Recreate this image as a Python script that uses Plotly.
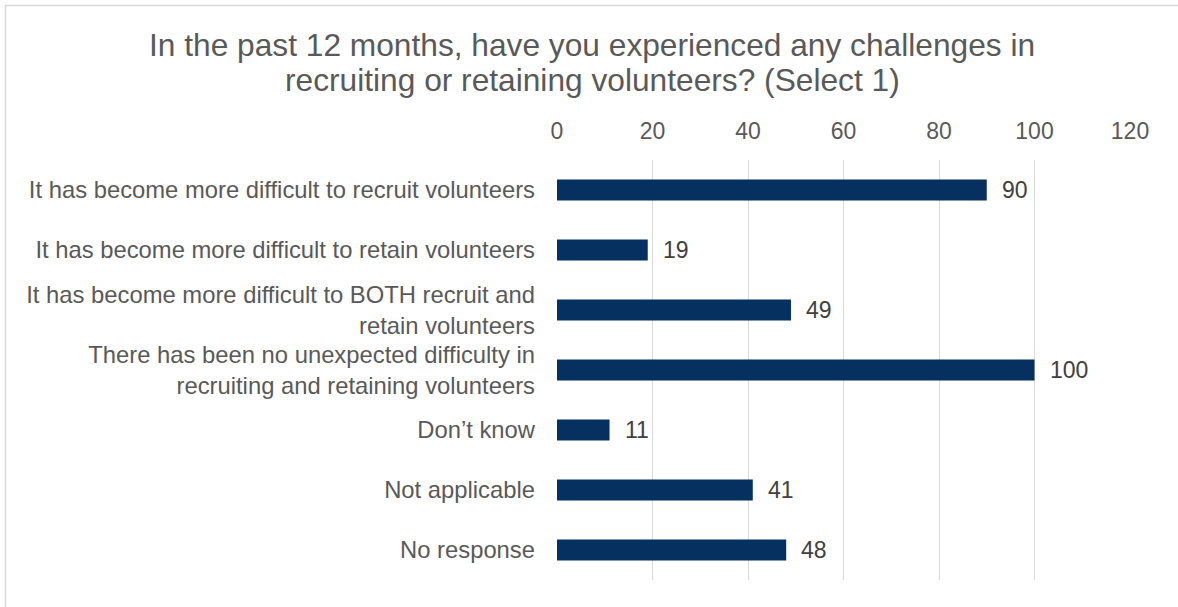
import plotly.graph_objects as go

# Survey responses
categories = [
    "It has become more difficult to recruit volunteers",
    "It has become more difficult to retain volunteers",
    "It has become more difficult to BOTH recruit and<br>retain volunteers",
    "There has been no unexpected difficulty in<br>recruiting and retaining volunteers",
    "Don\u2019t know",
    "Not applicable",
    "No response",
]
counts = [90, 19, 49, 100, 11, 41, 48]
x_ticks = [0, 20, 40, 60, 80, 100, 120]

title_lines = [
    "In the past 12 months, have you experienced any challenges in",
    "recruiting or retaining volunteers? (Select 1)",
]

W, H = 1178, 607
L, R, T, B = 557, 48, 160, 27
FONT = "Liberation Sans, Arial, sans-serif"
BAR = "#05305F"
TXT = "#595959"
TICK_SIZE = 23.8
TITLE_SIZE = 31.7

fig = go.Figure()
fig.add_trace(go.Bar(
    x=counts, y=categories, orientation="h",
    marker=dict(color=BAR, line=dict(width=0)),
    width=0.35, hoverinfo="x+y",
))

# value labels just past the bar ends
for c, v in zip(categories, counts):
    fig.add_annotation(x=v, y=c, text=str(v), showarrow=False,
                       xanchor="left", xshift=13,
                       font=dict(family=FONT, size=23, color="#404040"))

pw, ph = W - L - R, H - T - B
def px_x(p): return (p - L) / pw
def px_y(p): return (H - B - p) / ph

# two-line chart title
for line, yc in zip(title_lines, [45, 80]):
    fig.add_annotation(xref="paper", yref="paper", x=px_x(592), y=px_y(yc),
                       text=line, showarrow=False, xanchor="center", yanchor="middle",
                       font=dict(family=FONT, size=TITLE_SIZE, color=TXT))

# light frame around the whole chart
fig.add_shape(type="rect", xref="paper", yref="paper",
              x0=px_x(5.5), x1=px_x(1190), y0=px_y(630), y1=px_y(5.5),
              line=dict(color="#D9D9D9", width=1.5), fillcolor="rgba(0,0,0,0)",
              layer="below")

fig.update_layout(
    width=W, height=H,
    margin=dict(l=L, r=R, t=T, b=B, pad=0),
    paper_bgcolor="white", plot_bgcolor="white",
    showlegend=False,
    xaxis=dict(range=[0, 120], tickvals=x_ticks, side="top",
               showgrid=True, gridcolor="#D9D9D9", gridwidth=1.3,
               zeroline=False, showline=False, ticks="",
               ticklabelstandoff=15,
               tickfont=dict(family=FONT, size=23, color=TXT)),
    yaxis=dict(autorange="reversed", showgrid=False, zeroline=False,
               showline=False, ticks="", ticklabelstandoff=21,
               tickfont=dict(family=FONT, size=TICK_SIZE, color=TXT)),
    bargap=0.65,
)

fig.write_html("out.html")
